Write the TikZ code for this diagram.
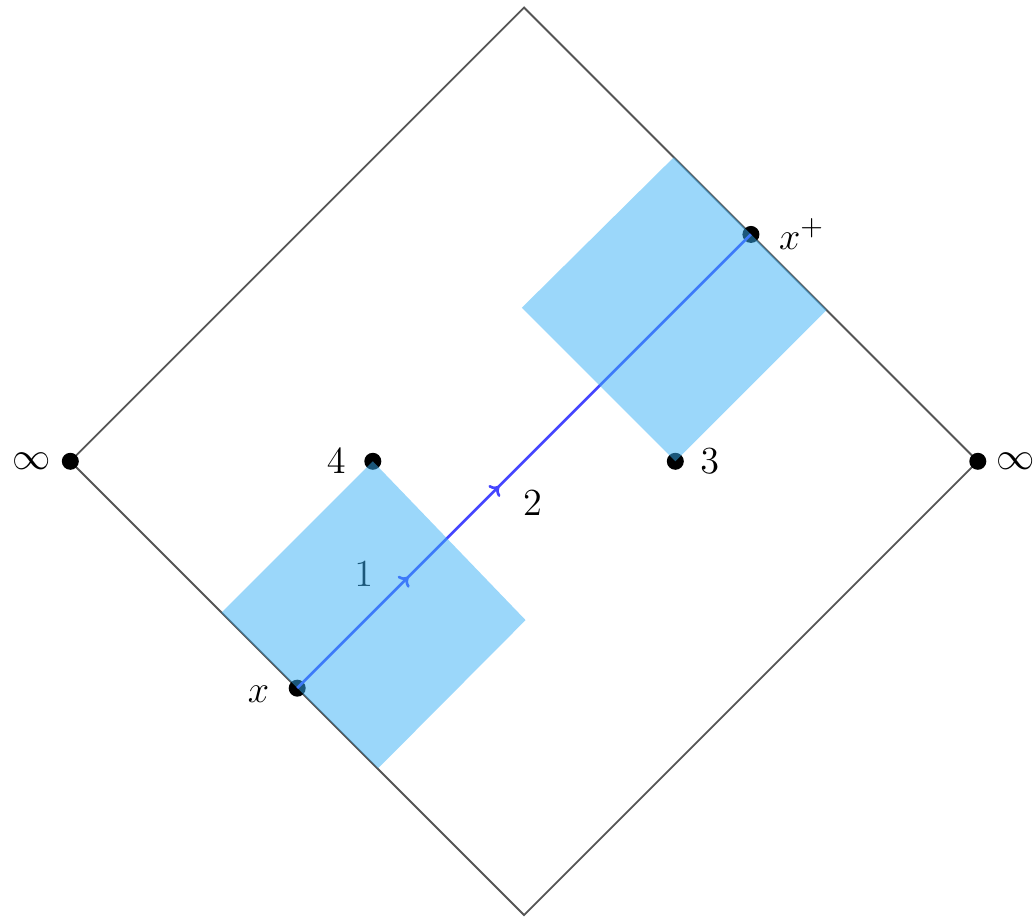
\documentclass[tikz,border=0pt]{standalone}
\usetikzlibrary{arrows.meta, positioning, decorations.markings}
\definecolor{cgrey}{HTML}{555555}
\definecolor{cblue}{HTML}{4545FF}
\definecolor{csky}{HTML}{37AFF5}
\tikzset{
  every picture/.style={line width=0.7pt},
  dot/.style={circle, fill=black, inner sep=0pt, minimum size=6.4pt},
  lbl/.style={font=\fontsize{15.5}{18}\selectfont, inner sep=3.3pt},
  world/.style={draw=cgrey},
  region/.style={fill=csky, fill opacity=0.5},
  ray/.style={draw=cblue, line width=1pt, postaction={decorate},
    decoration={markings,
      mark=at position 0.245 with {\arrow{To[length=3pt,width=6pt]}},
      mark=at position 0.445 with {\arrow{To[length=3pt,width=6pt]}}}},
}
\begin{document}
\begin{tikzpicture}
  \useasboundingbox (-6.93,-6.05) rectangle (6.73,6.10);
  % conformal boundary
  \coordinate (top) at (0,6);
  \coordinate (right) at (6,0);
  \coordinate (bottom) at (0,-6);
  \coordinate (left) at (-6,0);
  \draw[world] (top) -- (right) -- (bottom) -- (left) -- cycle;
  % marked points
  \node[dot] (infl) at (left) {};
  \node[dot] (infr) at (right) {};
  \node[dot] (p4) at (-2,0) {};
  \node[dot] (p3) at (2,0) {};
  \node[dot] (px) at (-3,-3) {};
  \node[dot] (pxp) at (3,3) {};
  \node[lbl, left=0pt of infl] (linfl) {$\infty$};
  \node[lbl, right=0pt of infr] (linfr) {$\infty$};
  \node[lbl, left=3pt of p4] (l4) {$4$};
  \node[lbl, right=2.2pt of p3] (l3) {$3$};
  \node[lbl, left=3.3pt of px, yshift=-2.3pt] (lx) {$x$};
  \node[lbl, right=3.4pt of pxp] (lxp) {$x^+$};
  \draw[ray] (px.center) -- (pxp.center);
  \node[lbl] (l1) at (-2.12,-1.49) {$1$};
  \node[lbl] (l2) at (0.11,-0.56) {$2$};
  % causal diamonds
  \fill[region] (-2,0) -- (0.02,-2.1) -- (-1.93,-4.06) -- (-4,-2) -- cycle;
  \fill[region] (2,0) -- (4,2) -- (1.98,4.02) -- (-0.03,2.03) -- cycle;
\end{tikzpicture}
\end{document}
